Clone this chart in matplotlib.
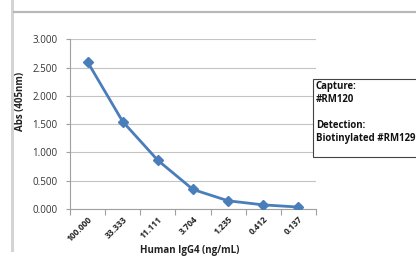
import numpy as np
import matplotlib.pyplot as plt
from matplotlib.patches import Rectangle
from matplotlib.lines import Line2D

# Dane z wykresu
concentrations = ['100.000', '33.333', '11.111', '3.704', '1.235', '0.412', '0.137']
absorbance = [2.60, 1.545, 0.86, 0.345, 0.145, 0.073, 0.034]
y_ticks = [0.0, 0.5, 1.0, 1.5, 2.0, 2.5, 3.0]

plt.rcParams['font.family'] = ['Open Sans', 'DejaVu Sans']

W, H = 416, 257
fig = plt.figure(figsize=(W / 100, H / 100), dpi=100)
fig.patch.set_facecolor('white')

# Ramka okna (szary pasek z lewej i linia u góry)
fig.add_artist(Rectangle((11 / W, 1 - 252 / H), 3 / W, 252 / H,
                         transform=fig.transFigure, facecolor='#d4d4d4', edgecolor='none'))
fig.add_artist(Line2D([14 / W, 1], [1 - 11.5 / H, 1 - 11.5 / H],
                      transform=fig.transFigure, color='#b8b8b8', linewidth=1.6))

ax = fig.add_axes([70 / W, 1 - 209 / H, (316 - 70) / W, (209 - 39.3) / H])

positions = np.arange(len(concentrations))
ax.plot(positions, absorbance, color='#4a7ebb', linewidth=2.0,
        marker='D', markersize=5.5, markerfacecolor='#4a7ebb',
        markeredgecolor='#4a7ebb', zorder=3)

ax.set_xlim(-0.5, len(concentrations) - 0.5)
ax.set_ylim(0, 3.0)
ax.set_yticks(y_ticks)
ax.set_yticklabels([f'{v:.3f}' for v in y_ticks], fontsize=7, color='#333333')
ax.grid(axis='y', color='#c4c4c4', linewidth=0.8)
ax.set_axisbelow(True)

# Znaczniki osi X na granicach kategorii
ax.set_xticks(np.arange(len(concentrations) + 1) - 0.5)
ax.set_xticklabels([])
ax.set_xticks(positions, minor=True)
ax.set_xticklabels(concentrations, minor=True, rotation=45, ha='right',
                   rotation_mode='anchor', fontsize=6.1, fontweight='bold', color='#222222')
ax.tick_params(axis='x', which='minor', length=0, pad=4)
ax.tick_params(axis='x', which='major', length=4, color='#a0a0a0', width=0.8)
ax.tick_params(axis='y', length=3, color='#a0a0a0', width=0.8, pad=6)

for side in ['top', 'right']:
    ax.spines[side].set_visible(False)
for side in ['left', 'bottom']:
    ax.spines[side].set_color('#a0a0a0')
    ax.spines[side].set_linewidth(0.8)

fig.text(21 / W, 1 - 101 / H, 'Abs (405nm)', rotation=90, ha='center', va='center',
         fontsize=7, fontweight='bold', color='#222222')
fig.text(190 / W, 1 - 251 / H, 'Human IgG4 (ng/mL)', ha='center', va='center',
         fontsize=7, fontweight='bold', color='#222222')

# Pole z opisem
fig.add_artist(Rectangle((313 / W, 1 - 157 / H), 120 / W, 78 / H,
                         transform=fig.transFigure, facecolor='white',
                         edgecolor='#444444', linewidth=0.8))
box_lines = [('Capture:', 87), ('#RM120', 99), ('Detection:', 126), ('Biotinylated #RM129', 138)]
for txt, yy in box_lines:
    fig.text(316 / W, 1 - yy / H, txt, ha='left', va='center',
             fontsize=6.9, fontweight='bold', color='#111111')

fig.savefig('out.png', dpi=100)
